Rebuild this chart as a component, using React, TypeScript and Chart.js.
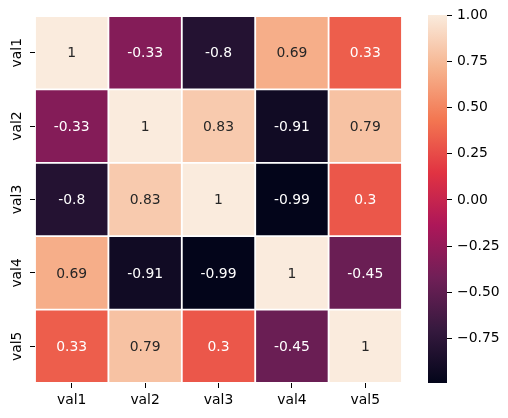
import React, { useEffect, useRef } from "react";
import { Chart, registerables } from "chart.js";

Chart.register(...registerables);

const LABELS = ["val1", "val2", "val3", "val4", "val5"];
const ROW1 = [1, -0.33, -0.8, 0.69, 0.33];
const ROW2 = [-0.33, 1, 0.83, -0.91, 0.79];
const ROW3 = [-0.8, 0.83, 1, -0.99, 0.3];
const ROW4 = [0.69, -0.91, -0.99, 1, -0.45];
const ROW5 = [0.33, 0.79, 0.3, -0.45, 1];
const ROWS = [ROW1, ROW2, ROW3, ROW4, ROW5];
const VMIN = -0.99;
const VMAX = 1;
const CB_TICKS = [-0.75, -0.5, -0.25, 0, 0.25, 0.5, 0.75, 1.0];

const ROCKET: [number, number[]][] = [
  [0, [3, 5, 26]],
  [1 / 7, [53, 25, 62]],
  [2 / 7, [112, 31, 87]],
  [3 / 7, [173, 23, 89]],
  [4 / 7, [225, 51, 66]],
  [5 / 7, [243, 118, 81]],
  [6 / 7, [246, 180, 143]],
  [1, [250, 235, 221]],
];

function rocketRGB(t: number): number[] {
  t = Math.max(0, Math.min(1, t));
  for (let i = 1; i < ROCKET.length; i++) {
    const [t1, c1] = ROCKET[i];
    const [t0, c0] = ROCKET[i - 1];
    if (t <= t1) {
      const f = (t - t0) / (t1 - t0);
      return c0.map((c, k) => Math.round(c + (c1[k] - c) * f));
    }
  }
  return ROCKET[ROCKET.length - 1][1];
}
const rgbStr = (c: number[]) => `rgb(${c[0]},${c[1]},${c[2]})`;
const colorFor = (v: number) => rgbStr(rocketRGB((v - VMIN) / (VMAX - VMIN)));
function textColorFor(v: number) {
  const c = rocketRGB((v - VMIN) / (VMAX - VMIN)).map((x) => {
    const s = x / 255;
    return s <= 0.03928 ? s / 12.92 : Math.pow((s + 0.055) / 1.055, 2.4);
  });
  const lum = 0.2126 * c[0] + 0.7152 * c[1] + 0.0722 * c[2];
  return lum > 0.408 ? "#262626" : "#ffffff";
}

const FONT = "DejaVu Sans";
const FS = 13.9;

export default function App() {
  const mainRef = useRef<HTMLCanvasElement>(null);
  const cbRef = useRef<HTMLCanvasElement>(null);

  useEffect(() => {
    const annotPlugin = {
      id: "annot",
      afterDatasetsDraw(chart: any) {
        const ctx = chart.ctx;
        ctx.save();
        ctx.font = `${FS}px "${FONT}"`;
        ctx.textAlign = "center";
        ctx.textBaseline = "middle";
        chart.data.datasets.forEach((ds: any, r: number) => {
          const meta = chart.getDatasetMeta(r);
          meta.data.forEach((el: any, j: number) => {
            const v = ROWS[r][j];
            ctx.fillStyle = textColorFor(v);
            ctx.fillText(String(v), el.x, (el.y + el.base) / 2 + 1);
          });
        });
        // y tick labels, rotated
        const ys = chart.scales.y;
        ctx.fillStyle = "#000000";
        ctx.textBaseline = "alphabetic";
        LABELS.forEach((lab, i) => {
          const py = ys.getPixelForValue(i + 0.5);
          ctx.save();
          ctx.translate(21, py);
          ctx.rotate(-Math.PI / 2);
          ctx.fillText(lab, 0, 0);
          ctx.restore();
        });
        ctx.restore();
      },
    };

    const main = new Chart(mainRef.current!, {
      type: "bar",
      data: {
        labels: LABELS,
        datasets: ROWS.map((row, r) => ({
          label: LABELS[r],
          data: row.map(() => [r, r + 1]) as any,
          backgroundColor: row.map(colorFor),
          borderColor: "#ffffff",
          borderWidth: 1.25,
          borderSkipped: false,
          grouped: false,
          barPercentage: 1,
          categoryPercentage: 1,
        })),
      },
      options: {
        animation: false,
        responsive: false,
        devicePixelRatio: 1,
        events: [],
        layout: { padding: { left: 0, top: 16, right: 106, bottom: 0 } },
        plugins: { legend: { display: false }, tooltip: { enabled: false } },
        scales: {
          x: {
            type: "category",
            offset: true,
            border: { display: false },
            grid: {
              offset: false,
              drawOnChartArea: false,
              drawTicks: true,
              tickLength: 5,
              tickColor: "#000000",
              tickWidth: 1,
            },
            ticks: {
              color: "#000000",
              font: { family: FONT, size: FS },
              padding: 4,
              maxRotation: 0,
              minRotation: 0,
            },
            afterFit: (s: any) => {
              s.height = 35;
            },
          },
          y: {
            type: "linear",
            min: 0,
            max: 5,
            reverse: true,
            border: { display: false },
            grid: {
              drawOnChartArea: false,
              drawTicks: true,
              tickLength: 5,
              tickColor: "#000000",
              tickWidth: 1,
            },
            ticks: { display: false },
            afterBuildTicks: (s: any) => {
              s.ticks = [0.5, 1.5, 2.5, 3.5, 4.5].map((v) => ({ value: v }));
            },
            afterFit: (s: any) => {
              s.width = 35;
            },
          },
        },
      },
      plugins: [annotPlugin],
    } as any);

    const cb = new Chart(cbRef.current!, {
      type: "bar",
      data: {
        labels: [""],
        datasets: [
          {
            data: [[VMIN, VMAX]] as any,
            backgroundColor: (c: any) => {
              const chart = c.chart;
              const ys = chart.scales.y;
              if (!ys || !chart.chartArea) return "#000";
              const g = chart.ctx.createLinearGradient(
                0,
                ys.getPixelForValue(VMIN),
                0,
                ys.getPixelForValue(VMAX)
              );
              ROCKET.forEach(([t, col]) => g.addColorStop(t, rgbStr(col)));
              return g;
            },
            borderWidth: 0,
            barPercentage: 1,
            categoryPercentage: 1,
          },
        ],
      },
      options: {
        animation: false,
        responsive: false,
        devicePixelRatio: 1,
        events: [],
        layout: { padding: { left: 428, top: 15, right: 0, bottom: 35 } },
        plugins: { legend: { display: false }, tooltip: { enabled: false } },
        scales: {
          x: { display: false },
          y: {
            type: "linear",
            position: "right",
            min: VMIN,
            max: VMAX,
            border: { display: false },
            grid: {
              drawOnChartArea: false,
              drawTicks: true,
              tickLength: 5,
              tickColor: "#000000",
              tickWidth: 1,
            },
            ticks: {
              color: "#000000",
              font: { family: FONT, size: FS },
              padding: 5,
              callback: (v: any) => {
                const n = Number(v);
                const s = Math.abs(n).toFixed(2);
                return n < 0 ? "\u2212" + s : s;
              },
            },
            afterBuildTicks: (s: any) => {
              s.ticks = CB_TICKS.map((v) => ({ value: v }));
            },
            afterFit: (s: any) => {
              s.width = 61;
            },
          },
        },
      },
    } as any);

    return () => {
      main.destroy();
      cb.destroy();
    };
  }, []);

  return (
    <div
      style={{
        position: "absolute",
        left: 0,
        top: 0,
        width: 508,
        height: 418,
        background: "#ffffff",
      }}
    >
      <canvas
        ref={mainRef}
        width={508}
        height={418}
        style={{ position: "absolute", left: 0, top: 0, width: 508, height: 418 }}
      />
      <canvas
        ref={cbRef}
        width={508}
        height={418}
        style={{ position: "absolute", left: 0, top: 0, width: 508, height: 418 }}
      />
    </div>
  );
}
